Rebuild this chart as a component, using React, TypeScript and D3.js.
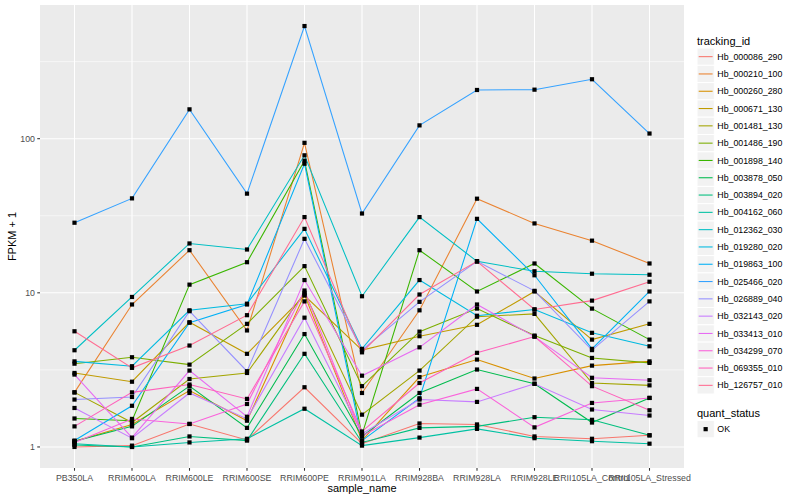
import * as d3 from "d3";

const SAMPLES = [
  "PB350LA", "RRIM600LA", "RRIM600LE", "RRIM600SE", "RRIM600PE", "RRIM901LA",
  "RRIM928BA", "RRIM928LA", "RRIM928LE", "RRII105LA_Control", "RRII105LA_Stressed",
];

const TRACKING_IDS = [
  "Hb_000086_290", "Hb_000210_100", "Hb_000260_280", "Hb_000671_130", "Hb_001481_130",
  "Hb_001486_190", "Hb_001898_140", "Hb_003878_050", "Hb_003894_020", "Hb_004162_060",
  "Hb_012362_030", "Hb_019280_020", "Hb_019863_100", "Hb_025466_020", "Hb_026889_040",
  "Hb_032143_020", "Hb_033413_010", "Hb_034299_070", "Hb_069355_010", "Hb_126757_010",
];

// ggplot's default hue palette for 20 levels
const COLORS = [
  "#F8766D", "#EA8331", "#D89000", "#C09B00", "#A3A500", "#7CAE00", "#39B600", "#00BB4E",
  "#00BF7D", "#00C1A3", "#00BFC4", "#00BAE0", "#00B0F6", "#35A2FF", "#9590FF", "#C77CFF",
  "#E76BF3", "#FA62DB", "#FF62BC", "#FF6C91",
];

// FPKM + 1, one row per tracking id, one value per sample
const FPKM = [
  [1.0, 1.02, 1.41, 1.11, 2.44, 1.05, 1.42, 1.4, 1.17, 1.13, 1.19],
  [2.26, 8.4, 18.9, 5.7, 94, 2.24, 7.7, 40.8, 28.2, 21.8, 15.5],
  [1.09, 1.4, 2.32, 1.48, 9.75, 1.1, 2.84, 3.69, 2.78, 3.37, 3.59],
  [3.02, 2.65, 6.44, 4.02, 9.6, 4.25, 5.23, 6.2, 10.2, 4.97, 6.29],
  [2.26, 1.44, 2.76, 3.02, 10.0, 1.62, 3.13, 7.0, 7.3, 2.6, 2.51],
  [3.47, 3.82, 3.42, 6.29, 14.9, 2.48, 5.6, 7.9, 5.28, 3.78, 3.51],
  [1.53, 1.48, 11.3, 15.8, 72, 1.2, 18.9, 10.2, 15.5, 7.9, 4.97],
  [1.09, 1.36, 2.48, 1.33, 5.4, 1.17, 2.24, 3.18, 2.57, 1.44, 2.08],
  [1.03, 1.0, 1.17, 1.1, 4.02, 1.07, 1.33, 1.36, 1.56, 1.5, 1.19],
  [1.05, 1.0, 1.07, 1.13, 1.77, 1.02, 1.15, 1.31, 1.14, 1.09, 1.05],
  [4.24, 9.4, 20.9, 19.1, 78, 9.5, 31, 16, 13.8, 13.3, 13.1],
  [3.59, 3.34, 7.7, 8.5, 26, 4.33, 12.1, 7.1, 7.8, 5.5, 4.5],
  [1.1, 1.85, 6.4, 8.4, 68.8, 1.1, 2.07, 30.2, 13.0, 4.33, 10.2],
  [28.5, 41, 155, 44, 538, 32.7, 122, 207, 208, 243, 108],
  [2.03, 2.11, 7.6, 3.1, 22.4, 4.25, 8.74, 16, 10.3, 4.25, 8.8],
  [1.79, 1.14, 2.24, 1.52, 6.9, 1.22, 2.03, 1.96, 2.57, 1.75, 1.6],
  [2.95, 1.15, 3.13, 1.57, 12.1, 2.9, 4.43, 8.4, 5.2, 2.81, 2.71],
  [1.07, 1.52, 1.41, 1.9, 10.35, 1.18, 1.88, 2.38, 1.34, 1.93, 2.08],
  [1.36, 2.26, 2.54, 2.05, 8.8, 1.26, 2.6, 4.08, 5.2, 2.48, 1.73],
  [5.63, 3.26, 4.55, 7.16, 31, 4.11, 9.75, 16, 7.8, 8.9, 11.8],
];

const Y_TICKS = [1, 10, 100];
const Y_MINOR = [Math.sqrt(10), Math.sqrt(10) * 10, Math.sqrt(10) * 100];

const W = 800;
const H = 500;
const PANEL = { left: 40, right: 684, top: 5, bottom: 468 };
const FONT = "'Liberation Sans', Arial, Helvetica, sans-serif";

export default function App() {
  const all = FPKM.flat();
  const lo = Math.log10(d3.min(all) as number);
  const hi = Math.log10(d3.max(all) as number);
  const pad = (hi - lo) * 0.05;

  const x = d3.scalePoint<string>().domain(SAMPLES).range([PANEL.left, PANEL.right]).padding(0.6);
  const y = d3
    .scaleLog()
    .domain([Math.pow(10, lo - pad), Math.pow(10, hi + pad)])
    .range([PANEL.bottom, PANEL.top]);

  const line = d3
    .line<number>()
    .x((_, i) => x(SAMPLES[i]) as number)
    .y((v) => y(v));

  const legendX = 697;
  const keyTop = 48;
  const keyH = 17.3;

  return (
    <div style={{ position: "fixed", left: 0, top: 0 }}>
      <svg width={W} height={H} style={{ display: "block", fontFamily: FONT }}>
        <rect x={0} y={0} width={W} height={H} fill="#ffffff" />
        <rect
          x={PANEL.left}
          y={PANEL.top}
          width={PANEL.right - PANEL.left}
          height={PANEL.bottom - PANEL.top}
          fill="#EBEBEB"
        />
        {Y_MINOR.map((t) => (
          <line key={"m" + t} x1={PANEL.left} x2={PANEL.right} y1={y(t)} y2={y(t)} stroke="#fff" strokeWidth={0.55} />
        ))}
        {Y_TICKS.map((t) => (
          <line key={"y" + t} x1={PANEL.left} x2={PANEL.right} y1={y(t)} y2={y(t)} stroke="#fff" strokeWidth={1.07} />
        ))}
        {SAMPLES.map((s) => (
          <line key={"x" + s} x1={x(s)} x2={x(s)} y1={PANEL.top} y2={PANEL.bottom} stroke="#fff" strokeWidth={1.07} />
        ))}

        {FPKM.map((vals, i) => (
          <path key={TRACKING_IDS[i]} d={line(vals) || ""} fill="none" stroke={COLORS[i]} strokeWidth={1.07} />
        ))}
        {FPKM.map((vals, i) =>
          vals.map((v, j) => (
            <rect
              key={i + "-" + j}
              x={(x(SAMPLES[j]) as number) - 2.1}
              y={y(v) - 2.1}
              width={4.2}
              height={4.2}
              fill="#000"
            />
          ))
        )}

        {/* y axis */}
        {Y_TICKS.map((t) => (
          <g key={"yt" + t}>
            <line x1={PANEL.left - 2.75} x2={PANEL.left} y1={y(t)} y2={y(t)} stroke="#333" strokeWidth={1.07} />
            <text x={PANEL.left - 5} y={y(t)} dy="0.35em" textAnchor="end" fontSize={8.8} fill="#4D4D4D">
              {t}
            </text>
          </g>
        ))}
        {/* x axis */}
        {SAMPLES.map((s) => (
          <g key={"xt" + s}>
            <line x1={x(s)} x2={x(s)} y1={PANEL.bottom} y2={PANEL.bottom + 2.75} stroke="#333" strokeWidth={1.07} />
            <text x={x(s)} y={PANEL.bottom + 12.5} textAnchor="middle" fontSize={8.8} fill="#4D4D4D">
              {s}
            </text>
          </g>
        ))}
        <text x={(PANEL.left + PANEL.right) / 2} y={492} textAnchor="middle" fontSize={11} fill="#000">
          sample_name
        </text>
        <text
          transform={`translate(16,${(PANEL.top + PANEL.bottom) / 2}) rotate(-90)`}
          textAnchor="middle"
          fontSize={11}
          fill="#000"
        >
          FPKM + 1
        </text>

        {/* legend: tracking_id */}
        <text x={legendX} y={44.5} fontSize={11} fill="#000">
          tracking_id
        </text>
        {TRACKING_IDS.map((id, i) => {
          const ky = keyTop + i * keyH;
          return (
            <g key={"lg" + id}>
              <rect x={legendX} y={ky} width={keyH} height={keyH} fill="#F2F2F2" stroke="#fff" strokeWidth={1} />
              <line
                x1={legendX + 1.7}
                x2={legendX + keyH - 1.7}
                y1={ky + keyH / 2}
                y2={ky + keyH / 2}
                stroke={COLORS[i]}
                strokeWidth={1.07}
              />
              <text x={legendX + keyH + 3} y={ky + keyH / 2} dy="0.35em" fontSize={8.8} fill="#000">
                {id}
              </text>
            </g>
          );
        })}

        {/* legend: quant_status */}
        <text x={legendX} y={416.5} fontSize={11} fill="#000">
          quant_status
        </text>
        <rect x={legendX} y={420.5} width={keyH} height={keyH} fill="#F2F2F2" stroke="#fff" strokeWidth={1} />
        <rect x={legendX + keyH / 2 - 2.1} y={420.5 + keyH / 2 - 2.1} width={4.2} height={4.2} fill="#000" />
        <text x={legendX + keyH + 3} y={420.5 + keyH / 2} dy="0.35em" fontSize={8.8} fill="#000">
          OK
        </text>
      </svg>
    </div>
  );
}
